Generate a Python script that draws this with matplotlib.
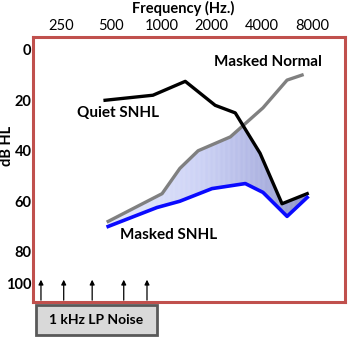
import numpy as np
import matplotlib
matplotlib.use("Agg")
import matplotlib.pyplot as plt
from matplotlib.patches import Rectangle
from matplotlib.colors import LinearSegmentedColormap

plt.rcParams['font.family'] = ['Lato', 'DejaVu Sans']

# audiogram thresholds (Hz, dB HL)
quiet_f = [460, 890, 1390, 2100, 2770, 3900, 5280, 7470]
quiet_db = [20, 18, 12.5, 22, 25, 41, 61, 57]

normal_f = [480, 1010, 1290, 1660, 2590, 4060, 5660, 6960]
normal_db = [68, 57, 47, 40, 34.5, 23, 12, 10]

snhl_f = [480, 940, 1290, 2010, 3180, 4060, 5660, 7470]
snhl_db = [70, 62.5, 60, 55, 53, 56.5, 66, 58.5]

freq_ticks = [250, 500, 1000, 2000, 4000, 8000]
db_ticks = [0, 20, 40, 60, 80]

noise_f = [190, 260, 385, 595, 820]

fig = plt.figure(figsize=(3.5, 3.38), dpi=100)
ax = fig.add_axes([0.094, 0.106, 0.892, 0.784])
ax.set_xscale('log', base=2)
ax.set_xlim(170, 12600)
ax.set_ylim(100, -5)

# shaded region between masked SNHL and the poorer of the other two curves,
# drawn as thin strips so the colour can darken to the right
gx = np.logspace(np.log10(480), np.log10(7470), 240)
lg = np.log(gx)
q = np.interp(lg, np.log(quiet_f), quiet_db)
n = np.interp(lg, np.log(normal_f), normal_db, right=normal_db[-1])
s = np.interp(lg, np.log(snhl_f), snhl_db)
upper = np.maximum(q, n)
cmap = LinearSegmentedColormap.from_list('fill', ['#e3e7fb', '#ccd2f5', '#aeb4e3', '#8a90c4'])
t = (lg - lg[0]) / (lg[-1] - lg[0])
for i in range(len(gx) - 1):
    ax.fill_between(gx[i:i + 2], upper[i:i + 2], s[i:i + 2],
                    color=cmap(t[i] ** 1.4), lw=0.3, zorder=1)

ax.plot(normal_f, normal_db, color='#808080', lw=2.4, zorder=3)
ax.plot(quiet_f, quiet_db, color='black', lw=2.4, zorder=4)
ax.plot(snhl_f, snhl_db, color='#0a0aff', lw=2.6, zorder=5)

ax.text(0.14, 0.715, 'Quiet SNHL', transform=ax.transAxes, fontsize=11,
        fontweight='bold', va='center')
ax.text(0.58, 0.905, 'Masked Normal', transform=ax.transAxes, fontsize=11,
        fontweight='bold', va='center')
ax.text(0.28, 0.255, 'Masked SNHL', transform=ax.transAxes, fontsize=11,
        fontweight='bold', va='center')

for f in noise_f:
    ax.annotate('', xy=(f, 90), xytext=(f, 100.3),
                arrowprops=dict(arrowstyle='-|>', color='black', lw=0.9,
                                mutation_scale=7), annotation_clip=False)

ax.xaxis.tick_top()
ax.set_xticks(freq_ticks)
ax.set_xticklabels([str(f) for f in freq_ticks])
ax.xaxis.set_minor_locator(plt.NullLocator())
ax.set_yticks(db_ticks)
ax.tick_params(length=0, labelsize=10.5, pad=3)
ax.tick_params(axis='y', pad=1)
for lab in ax.get_yticklabels():
    lab.set_fontweight('bold')
ax.text(-0.003, 93, '100', transform=ax.get_yaxis_transform(), ha='right',
        va='center', fontsize=10.5, fontweight='bold')
ax.set_ylabel('dB HL', fontsize=10.5, fontweight='bold')
ax.yaxis.set_label_coords(-0.062, 0.59)
fig.text(0.523, 0.975, 'Frequency (Hz.)', ha='center', va='center',
         fontsize=10.5, fontweight='bold')

for sp in ax.spines.values():
    sp.set_color('#c0504d')
    sp.set_linewidth(2.2)

box = Rectangle((36 / 350, 1 - 335 / 338), 121 / 350, 30 / 338,
                transform=fig.transFigure, facecolor='#d9d9d9',
                edgecolor='#595959', lw=2)
fig.add_artist(box)
fig.text(96 / 350, 1 - 320 / 338, '1 kHz LP Noise', ha='center', va='center',
         fontsize=10, fontweight='bold')

fig.savefig('out.png', dpi=100)
